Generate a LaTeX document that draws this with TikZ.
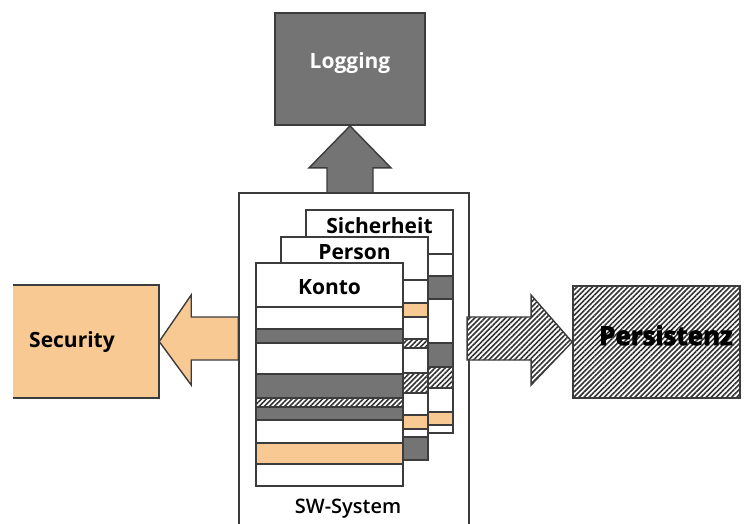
\documentclass[tikz,border=0pt]{standalone}
\usepackage{fontspec}
\setmainfont{Open Sans}
\newfontfamily\medfont{Open Sans}[UprightFont={* Semibold}]
\newfontfamily\heavyfont[FakeBold=3]{Open Sans}
\usepackage{tikz}
\usetikzlibrary{patterns.meta}
\definecolor{peach}{HTML}{F9C994}
\definecolor{dgray}{HTML}{747474}
\definecolor{edge}{HTML}{3C3C3C}

\begin{document}
\begin{tikzpicture}[
  x=1pt,y=-1pt,
  font=\fontsize{21}{24}\selectfont\bfseries,
  bx/.style={rectangle,inner sep=0pt,draw=edge,line width=1.8pt},
  lbl/.style={anchor=base,inner sep=0pt},
  hatch/.style={preaction={fill=white},pattern={Lines[angle=45,distance=3.6pt,line width=1.6pt]},pattern color=black!80},
  blk/.style={draw=edge,line width=1.4pt,line join=miter},
  band/.style={draw=edge,line width=1.3pt,fill=white},
  bw/.style={},
  bg/.style={fill=dgray},
  bo/.style={fill=peach},
  bh/.style={hatch}
]
\useasboundingbox (0,0) rectangle (744,523);
\clip (0,0) rectangle (744,523);

% SW-System
\node[bx,minimum width=230,minimum height=340,anchor=north west] (sw) at (238,192) {};
\node[lbl,font=\fontsize{20}{24}\medfont] (swT) at (348,513) {SW-System};

% cards, back to front
\foreach \ya/\yb/\s in {210/254/bw,254/276/bw,276/299/bg,299/343/bw,343/367/bg,367/388/bh,388/412/bw,412/425/bo,425/433/bw}
  \draw[band,\s] (306,\ya) rectangle (453,\yb);
\node[lbl] (sich) at (379.5,233) {Sicherheit};

\foreach \ya/\yb/\s in {237/280/bw,280/303/bw,303/317/bo,317/339/bw,339/348/bh,348/373/bw,373/393/bh,393/415/bw,415/429/bo,429/437/bw,437/460/bg}
  \draw[band,\s] (281,\ya) rectangle (428,\yb);
\node[lbl] (pers0) at (354.5,259) {Person};

\foreach \ya/\yb/\s in {263/307/bw,307/329/bw,329/343/bg,343/374/bw,374/398/bg,398/407/bh,407/420/bg,420/443/bw,443/464/bo,464/486/bw}
  \draw[band,\s] (256,\ya) rectangle (403,\yb);
\node[lbl] (konto) at (329.5,294) {Konto};

% aspects
\node[bx,fill=dgray,minimum width=150,minimum height=112] (log) at (350,69) {};
\node[lbl,text=white] (logT) at (350,68) {Logging};

\node[rectangle,inner sep=0pt,fill=peach,minimum width=146,minimum height=113] (sec) at (86,341.5) {};
\draw[edge,line width=1.8pt] (sec.north west) -- (sec.north east) -- (sec.south east) -- (sec.south west);
\node[lbl] (secT) at (72,347) {Security};

\node[bx,hatch,minimum width=167,minimum height=112] (pers) at (656.5,342) {};
\node[lbl,font=\fontsize{26}{30}\heavyfont\bfseries] (persT) at (666,345) {Persistenz};

% block arrows
\draw[blk,fill=dgray] (log.south) -- ++(-41,42) -- ++(18,0) -- ++(0,25) -- ++(46,0) -- ++(0,-25) -- ++(18,0) -- cycle;
\draw[blk,fill=peach] (sec.east) -- ++(32,-46.5) -- ++(0,22) -- ++(47,0) -- ++(0,43) -- ++(-47,0) -- ++(0,25) -- cycle;
\draw[blk,hatch] (pers.west) -- ++(-41,-47) -- ++(0,22) -- ++(-64,0) -- ++(0,43) -- ++(64,0) -- ++(0,25) -- cycle;
\end{tikzpicture}
\end{document}
